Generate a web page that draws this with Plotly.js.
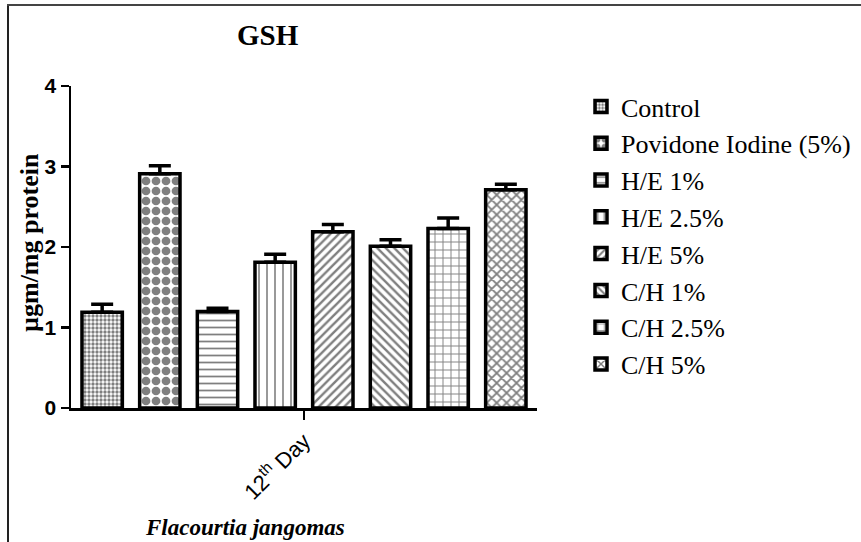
<!DOCTYPE html>
<html>
<head>
<meta charset="utf-8">
<script src="https://cdn.plot.ly/plotly-3.0.1.min.js"></script>
<style>html,body{margin:0;padding:0;background:#fff;}#chart{width:861px;height:542px;}</style>
</head>
<body>
<div id="chart"></div>
<script>
// ---- data ----
const category = "12th Day";
const categoryLabel = "12<sup>th</sup> Day";
const groups = ["Control", "Povidone Iodine (5%)", "H/E 1%", "H/E 2.5%", "H/E 5%", "C/H 1%", "C/H 2.5%", "C/H 5%"];
const means = [1.19, 2.91, 1.20, 1.81, 2.19, 2.01, 2.23, 2.71];
const errors = [0.10, 0.10, 0.04, 0.10, 0.09, 0.08, 0.13, 0.07];
const patterns = [".", ".", "-", "|", "/", "\\", "+", "x"];
const patternSizes = [4, 10, 7, 8, 6, 6, 8, 7];
const patternSolidity = [0.55, 0.6, 0.25, 0.2, 0.4, 0.4, 0.22, 0.45];

const serif = "Liberation Serif, Times New Roman, serif";
const sans = "Liberation Sans, Arial, sans-serif";

const traces = groups.map((g, i) => ({
  type: "bar",
  name: g,
  legendgroup: "g" + i,
  x: [category],
  y: [means[i]],
  error_y: {type: "data", symmetric: false, array: [errors[i]], arrayminus: [0], color: "#000", thickness: 3.5, width: 11},
  marker: {
    color: "#fff",
    line: {color: "#000", width: 3.5},
    pattern: {shape: patterns[i], fgcolor: "#000", bgcolor: "#fff", size: patternSizes[i], solidity: patternSolidity[i], fillmode: "overlay"}
  },
  hoverinfo: "name+y"
}));

// pixel helpers for decorations (plot area 71..537 x, 86..408 y)
const L = 71, R = 537, T = 86, B = 408;
const px = v => (v - L) / (R - L);
const py = v => (B - v) / (B - T);

const layout = {
  width: 861, height: 542,
  margin: {l: L, r: 861 - R, t: T, b: 542 - B, autoexpand: false},
  paper_bgcolor: "#fff", plot_bgcolor: "#fff",
  barmode: "group", bargap: 0.01, bargroupgap: 0.3,
  showlegend: true,
  legend: {
    x: px(581), xanchor: "left", y: py(83), yanchor: "top",
    font: {family: serif, size: 26, color: "#000"},
    traceorder: "grouped", tracegroupgap: 0, itemwidth: 30, maxheight: 480,
    bgcolor: "rgba(0,0,0,0)"
  },
  xaxis: {
    type: "category", range: [-0.5, 0.5], automargin: false,
    tickvals: [category], ticktext: [categoryLabel],
    tickangle: -45, ticks: "outside", ticklen: 9, tickwidth: 2, tickcolor: "#000",
    showline: true, linecolor: "#000", linewidth: 2.5, showgrid: false, zeroline: false,
    tickfont: {family: sans, size: 22, color: "#000"}
  },
  yaxis: {
    range: [0, 4], tickvals: [0, 1, 2, 3, 4], automargin: false,
    ticks: "outside", ticklen: 8, tickwidth: 2.5, tickcolor: "#000",
    showline: true, linecolor: "#000", linewidth: 2.5, showgrid: false, zeroline: false,
    tickfont: {family: sans, size: 21, color: "#000", weight: "bold"}
  },
  annotations: [
    {text: "<b>GSH</b>", xref: "paper", yref: "paper", x: px(268), y: py(35), xanchor: "center", yanchor: "middle", showarrow: false,
     font: {family: serif, size: 29, color: "#000"}},
    {text: "<b>µgm/mg protein</b>", xref: "paper", yref: "paper", x: px(29), y: py(243), xanchor: "center", yanchor: "middle", textangle: -90, showarrow: false,
     font: {family: serif, size: 26, color: "#000"}},
    {text: "<b><i>Flacourtia jangomas</i></b>", xref: "paper", yref: "paper", x: px(245), y: py(527), xanchor: "center", yanchor: "middle", showarrow: false,
     font: {family: serif, size: 23, color: "#000"}}
  ],
  shapes: [
    {type: "line", xref: "paper", yref: "paper", x0: px(8), x1: px(8), y0: py(5), y1: py(545), line: {color: "#222", width: 2}},
    {type: "line", xref: "paper", yref: "paper", x0: px(7), x1: px(864), y0: py(5), y1: py(5), line: {color: "#444", width: 2}}
  ]
};

Plotly.newPlot("chart", traces, layout, {displayModeBar: false, staticPlot: true});
</script>
</body>
</html>
